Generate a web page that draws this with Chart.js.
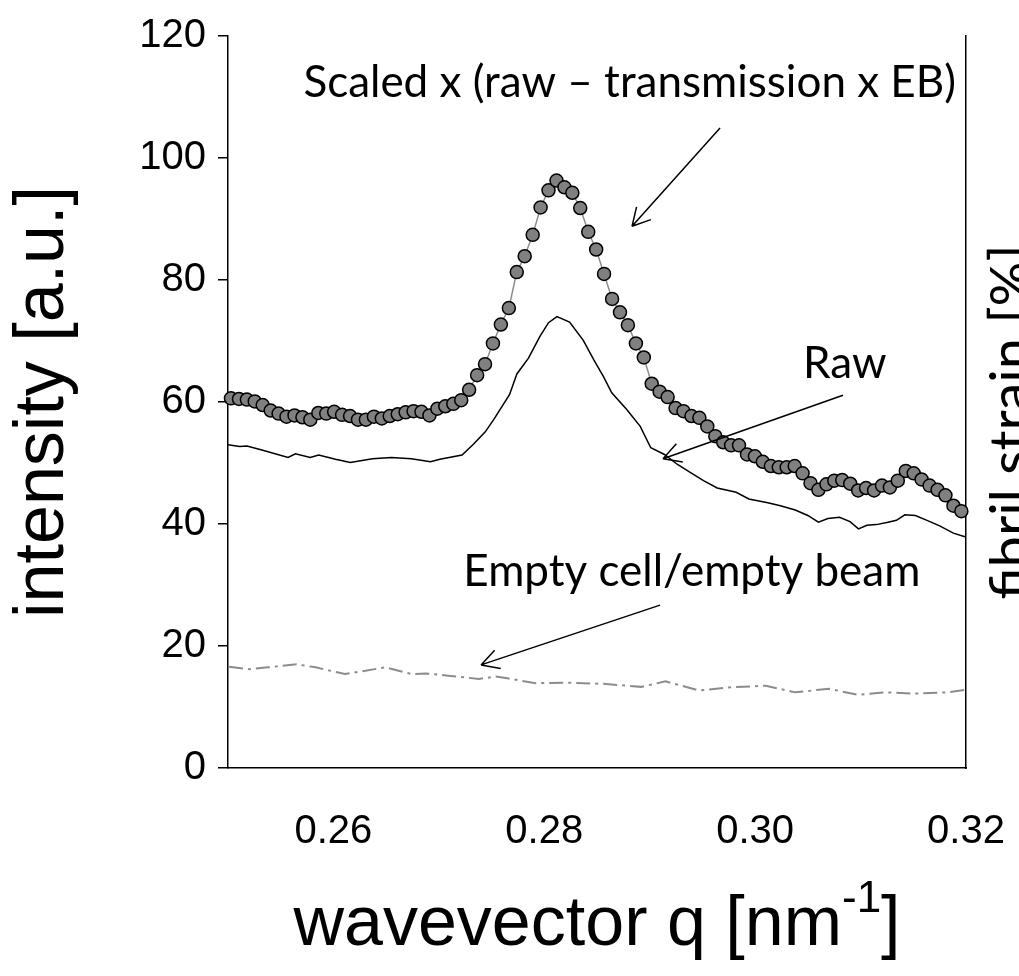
<!DOCTYPE html>
<html>
<head>
<meta charset="utf-8">
<script src="https://cdn.jsdelivr.net/npm/chart.js@4.4.1/dist/chart.umd.min.js"></script>
<style>
  html, body { margin: 0; padding: 0; background: #fff; }
  canvas { display: block; }
</style>
</head>
<body>
<canvas id="chart" width="1019" height="976"></canvas>
<script>
// scaled curve (grey dots)
const qScaled = [
  0.25028, 0.25104, 0.25179, 0.25254, 0.25329, 0.25405, 0.25480, 0.25555, 0.25631, 0.25706,
  0.25781, 0.25857, 0.25932, 0.26007, 0.26082, 0.26158, 0.26233, 0.26308, 0.26384, 0.26459,
  0.26534, 0.26610, 0.26685, 0.26760, 0.26835, 0.26911, 0.26986, 0.27061, 0.27137, 0.27212,
  0.27287, 0.27363, 0.27438, 0.27513, 0.27588, 0.27664, 0.27739, 0.27814, 0.27890, 0.27965,
  0.28040, 0.28116, 0.28191, 0.28266, 0.28341, 0.28417, 0.28492, 0.28567, 0.28643, 0.28718,
  0.28793, 0.28869, 0.28944, 0.29019, 0.29094, 0.29170, 0.29245, 0.29320, 0.29396, 0.29471,
  0.29546, 0.29622, 0.29697, 0.29772, 0.29847, 0.29923, 0.29998, 0.30073, 0.30149, 0.30224,
  0.30299, 0.30375, 0.30450, 0.30525, 0.30600, 0.30676, 0.30751, 0.30826, 0.30902, 0.30977,
  0.31052, 0.31128, 0.31203, 0.31278, 0.31353, 0.31429, 0.31504, 0.31579, 0.31655, 0.31730,
  0.31805, 0.31881, 0.31956
];
const intScaled = [
  60.6, 60.5, 60.4, 60.1, 59.5, 58.6, 58.1, 57.6, 57.8, 57.5,
  57.1, 58.2, 58.1, 58.4, 57.9, 57.7, 57.1, 57.1, 57.6, 57.3,
  57.7, 58.0, 58.3, 58.5, 58.4, 57.8, 58.9, 59.3, 59.7, 60.3,
  62.0, 64.4, 66.2, 69.6, 72.7, 75.4, 81.3, 83.9, 87.4, 91.9,
  94.7, 96.3, 95.2, 94.3, 91.8, 87.9, 85.0, 81.0, 76.9, 74.7,
  72.6, 69.6, 67.3, 63.0, 61.7, 60.8, 59.0, 58.5, 57.7, 57.4,
  56.0, 54.4, 53.4, 52.9, 52.9, 51.4, 51.1, 50.2, 49.5, 49.3,
  49.3, 49.5, 48.3, 46.7, 45.6, 46.5, 47.1, 47.2, 46.6, 45.5,
  45.9, 45.5, 46.3, 46.0, 47.1, 48.7, 48.3, 47.3, 46.3, 45.6,
  44.7, 43.0, 42.1
];

// raw curve (black line)
const qRaw = [
  0.2500, 0.2511, 0.2518, 0.2533, 0.2557, 0.2564, 0.2578, 0.2586, 0.2602, 0.2616,
  0.2637, 0.2655, 0.2674, 0.2692, 0.2701, 0.2722, 0.2733, 0.2744, 0.2752, 0.2767,
  0.2774, 0.2785, 0.2796, 0.2804, 0.2812, 0.2824, 0.2837, 0.2847, 0.2856, 0.2864,
  0.2878, 0.2891, 0.2901, 0.2914, 0.2926, 0.2938, 0.2951, 0.2964, 0.2982, 0.2994,
  0.3012, 0.3024, 0.3038, 0.3050, 0.3060, 0.3069, 0.3080, 0.3090, 0.3098, 0.3106,
  0.3115, 0.3126, 0.3134, 0.3142, 0.3152, 0.3163, 0.3175, 0.3188, 0.3199
];
const intRaw = [
  53.0, 52.7, 52.8, 52.1, 50.9, 51.5, 50.9, 51.3, 50.6, 50.1,
  50.7, 50.9, 50.7, 50.2, 50.6, 51.3, 53.1, 55.1, 57.1, 61.2,
  64.6, 67.2, 70.8, 73.0, 74.0, 73.1, 70.1, 66.9, 64.2, 61.5,
  58.8, 56.0, 52.5, 51.4, 49.8, 48.5, 47.1, 45.9, 45.2, 44.1,
  43.5, 43.0, 42.3, 41.4, 40.3, 40.9, 41.1, 40.4, 39.2, 39.8,
  39.9, 40.3, 40.6, 41.5, 41.4, 40.6, 39.7, 38.5, 37.9
];

// empty cell / empty beam (grey dash-dot)
const qEmpty = [
  0.2501, 0.2520, 0.2538, 0.2565, 0.2583, 0.2611, 0.2629, 0.2649, 0.2674, 0.2688,
  0.2711, 0.2738, 0.2754, 0.2765, 0.2792, 0.2820, 0.2856, 0.2892, 0.2915, 0.2947,
  0.2974, 0.3010, 0.3038, 0.3070, 0.3097, 0.3124, 0.3151, 0.3183, 0.3199
];
const intEmpty = [
  16.6, 16.2, 16.5, 17.0, 16.5, 15.4, 15.9, 16.5, 15.4, 15.5,
  15.1, 14.6, 15.0, 14.7, 13.9, 14.0, 13.8, 13.3, 14.2, 12.7,
  13.2, 13.5, 12.4, 13.0, 12.0, 12.4, 12.2, 12.4, 12.8
];

const xTicks = [0.26, 0.28, 0.30, 0.32];
const yTicks = [0, 20, 40, 60, 80, 100, 120];

// annotations in data units
const notes = [
  { text: 'Scaled x (raw \u2013 transmission x EB)', q: 0.2881, v: 112.4 },
  { text: 'Raw', q: 0.3085, v: 66.3 },
  { text: 'Empty cell/empty beam', q: 0.2940, v: 32.2 }
];
const arrows = [
  { from: [0.29667, 104.9], to: [0.28832, 88.8] },
  { from: [0.30833, 61.1], to: [0.29126, 50.7] },
  { from: [0.29098, 26.7], to: [0.27400, 16.9] }
];

const toPoints = (xs, ys) => xs.map((x, i) => ({ x: x, y: ys[i] }));

const annotate = {
  id: 'annotate',
  afterDatasetsDraw(chart) {
    const { ctx, scales: { x, y } } = chart;
    ctx.save();
    ctx.fillStyle = '#000';
    ctx.font = '44px Lato';
    ctx.textAlign = 'center';
    ctx.textBaseline = 'middle';
    notes.forEach(n => ctx.fillText(n.text, x.getPixelForValue(n.q), y.getPixelForValue(n.v)));

    ctx.strokeStyle = '#000';
    ctx.lineWidth = 1.5;
    arrows.forEach(a => {
      const x0 = x.getPixelForValue(a.from[0]), y0 = y.getPixelForValue(a.from[1]);
      const x1 = x.getPixelForValue(a.to[0]), y1 = y.getPixelForValue(a.to[1]);
      const ang = Math.atan2(y1 - y0, x1 - x0);
      ctx.beginPath();
      ctx.moveTo(x0, y0);
      ctx.lineTo(x1, y1);
      [-0.5, 0.5].forEach(d => {
        ctx.moveTo(x1, y1);
        ctx.lineTo(x1 - 20 * Math.cos(ang + d), y1 - 20 * Math.sin(ang + d));
      });
      ctx.stroke();
    });
    ctx.restore();
  },
  afterDraw(chart) {
    const { ctx, chartArea } = chart;
    ctx.save();
    ctx.fillStyle = '#000';
    // x axis title with superscript
    const cx = (chartArea.left + chartArea.right) / 2;
    const base = 945;
    const main = 'wavevector q [nm', sup = '-1', end = ']';
    ctx.font = '70px "Liberation Sans"';
    const wMain = ctx.measureText(main).width, wEnd = ctx.measureText(end).width;
    ctx.font = '44px "Liberation Sans"';
    const wSup = ctx.measureText(sup).width;
    const sx = cx - (wMain + wSup + wEnd) / 2;
    ctx.textAlign = 'left';
    ctx.textBaseline = 'alphabetic';
    ctx.font = '70px "Liberation Sans"';
    ctx.fillText(main, sx, base);
    ctx.font = '44px "Liberation Sans"';
    ctx.fillText(sup, sx + wMain, base - 33);
    ctx.font = '70px "Liberation Sans"';
    ctx.fillText(end, sx + wMain + wSup, base);

    // right axis title, cut by the canvas edge
    ctx.translate(1030, 422);
    ctx.rotate(-Math.PI / 2);
    ctx.textAlign = 'center';
    ctx.font = '56px Lato';
    ctx.fillText('fibril strain [%]', 0, 0);
    ctx.restore();
  }
};

new Chart(document.getElementById('chart'), {
  type: 'scatter',
  data: {
    datasets: [
      {
        label: 'Empty cell/empty beam',
        data: toPoints(qEmpty, intEmpty),
        showLine: true,
        borderColor: '#8c8c8c',
        borderWidth: 2,
        borderDash: [14, 5, 3, 5],
        pointRadius: 0
      },
      {
        label: 'Raw',
        data: toPoints(qRaw, intRaw),
        showLine: true,
        borderColor: '#000',
        borderWidth: 1.5,
        pointRadius: 0
      },
      {
        label: 'Scaled',
        data: toPoints(qScaled, intScaled),
        showLine: true,
        borderColor: '#8c8c8c',
        borderWidth: 1.5,
        pointRadius: 6.5,
        pointBackgroundColor: '#808080',
        pointBorderColor: '#000',
        pointBorderWidth: 1.5,
        clip: false
      }
    ]
  },
  options: {
    responsive: false,
    animation: false,
    devicePixelRatio: 1,
    layout: { padding: { top: 30, right: 13, left: 0, bottom: 0 } },
    plugins: { legend: { display: false }, tooltip: { enabled: false } },
    scales: {
      x: {
        type: 'linear',
        min: 0.25,
        max: 0.32,
        afterBuildTicks: s => { s.ticks = xTicks.map(v => ({ value: v })); },
        afterFit: s => { s.height = 208; s.paddingLeft = 0; s.paddingRight = 0; },
        ticks: {
          color: '#000',
          font: { family: 'Liberation Sans', size: 40 },
          padding: 40,
          maxRotation: 0,
          callback: v => v.toFixed(2)
        },
        grid: { display: false, drawTicks: false },
        border: { display: true, color: '#000', width: 1.5 }
      },
      y: {
        min: 0,
        max: 120,
        afterBuildTicks: s => { s.ticks = yTicks.map(v => ({ value: v })); },
        afterFit: s => { s.width = 228; },
        ticks: {
          color: '#000',
          font: { family: 'Liberation Sans', size: 40 },
          padding: 12
        },
        grid: { drawOnChartArea: false, drawTicks: true, tickLength: 10, color: '#000', lineWidth: 1.5 },
        border: { display: true, color: '#000', width: 1.5 },
        title: {
          display: true,
          text: 'intensity [a.u.]',
          color: '#000',
          font: { family: 'Liberation Sans', size: 70 },
          padding: { top: 2, bottom: 0 }
        }
      },
      y2: {
        position: 'right',
        min: 0,
        max: 120,
        afterFit: s => { s.width = 40; },
        ticks: { display: false },
        grid: { display: false, drawTicks: false },
        border: { display: true, color: '#000', width: 1.5 }
      }
    }
  },
  plugins: [annotate]
});
</script>
</body>
</html>
